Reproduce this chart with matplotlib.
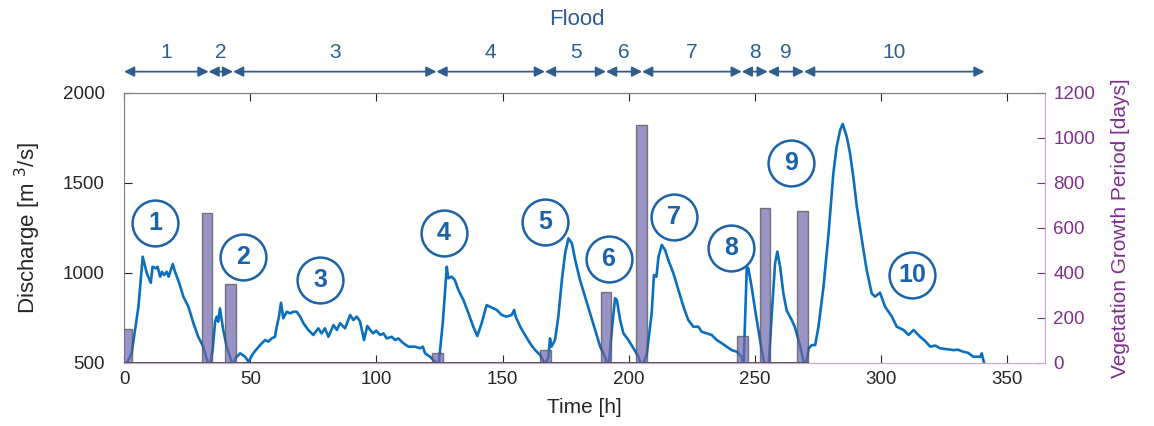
import numpy as np
import matplotlib.pyplot as plt

plt.rcParams['font.family'] = ['Liberation Sans', 'DejaVu Sans']

# discharge hydrograph (time in h, discharge in m3/s)
time_h = [0.5, 3.0, 5.7, 7.4, 9.0, 10.6, 11.3, 12.7, 13.3, 14.3, 15.0, 15.9, 16.9, 17.7,
          19.3, 20.2, 21.9, 23.5, 25.5, 27.5, 29.4, 31.4, 32.5, 33.8, 35.1, 36.1, 36.7,
          37.3, 38.0, 38.7, 39.3, 40.7, 42.0, 43.1, 44.0, 46.0, 48.0, 49.3, 51.2, 53.9,
          55.9, 57.2, 58.5, 59.8, 60.5, 61.4, 62.2, 63.1, 64.5, 65.8, 67.1, 68.4, 69.8,
          71.1, 73.0, 75.0, 77.0, 78.3, 79.6, 81.0, 83.0, 84.3, 85.6, 87.6, 89.6, 90.9,
          92.2, 93.5, 95.1, 96.4, 97.5, 98.8, 99.9, 101.5, 102.8, 104.1, 106.1, 107.4,
          108.7, 110.7, 112.7, 115.3, 117.3, 118.4, 119.3, 121.3, 123.3, 124.6, 126.3,
          127.9, 128.5, 129.8, 131.1, 132.5, 134.5, 136.5, 138.4, 140.0, 141.7, 143.7,
          145.0, 146.3, 147.7, 149.7, 151.6, 153.6, 154.6, 155.2, 157.0, 158.9, 160.9,
          162.9, 164.9, 166.9, 168.2, 168.8, 169.4, 170.8, 172.1, 173.5, 174.8, 176.1,
          177.5, 178.8, 180.7, 182.7, 184.7, 186.7, 188.7, 190.6, 192.0, 193.3, 194.6,
          195.3, 196.6, 197.9, 199.9, 201.9, 203.9, 205.2, 207.2, 209.1, 210.0, 211.0,
          211.8, 213.1, 214.4, 215.7, 217.7, 219.7, 221.7, 223.6, 225.6, 227.6, 228.9,
          230.9, 232.9, 234.9, 236.9, 238.8, 240.8, 242.8, 244.8, 245.5, 246.8, 247.4,
          248.7, 250.1, 251.4, 252.7, 254.1, 255.4, 256.7, 258.0, 258.9, 260.0, 261.3,
          262.6, 264.6, 265.8, 267.3, 268.6, 269.9, 271.3, 272.6, 273.9, 275.2, 277.2,
          279.2, 281.1, 282.4, 283.8, 284.8, 286.4, 287.7, 289.0, 290.4, 292.4, 294.3,
          296.3, 297.6, 299.6, 301.6, 304.3, 306.2, 308.9, 310.9, 312.9, 315.5, 317.5,
          319.5, 321.5, 323.4, 326.0, 328.7, 330.5, 332.6, 334.5, 336.6, 339.3, 339.9,
          340.8]
discharge = [480, 552, 811, 1089, 997, 944, 1033, 1024, 1033, 978, 1005, 987, 1005, 978,
             1048, 1005, 941, 867, 811, 719, 644, 589, 533, 470, 570, 728, 756,
             728, 802, 737, 682, 589, 533, 480, 524, 552, 533, 505, 552, 598,
             626, 617, 635, 644, 700, 756, 833, 747, 783, 774, 783, 783, 756,
             719, 682, 654, 691, 663, 691, 644, 709, 682, 719, 691, 765, 737,
             756, 730, 626, 704, 682, 663, 678, 654, 663, 635, 644, 626,
             635, 608, 589, 589, 580, 589, 552, 533, 505, 480, 719,
             1033, 969, 978, 959, 904, 848, 774, 700, 648, 719, 820,
             811, 802, 793, 765, 756, 765, 793, 756, 700, 654, 608,
             570, 543, 490, 533, 635, 589, 626, 756, 959, 1108, 1191,
             1163, 1070, 959, 867, 774, 682, 589, 533, 470, 682, 858,
             848, 737, 663, 626, 580, 533, 470, 552, 774, 987, 978,
             1089, 1154, 1126, 1070, 997, 904, 811, 737, 700, 700, 672,
             663, 654, 626, 608, 589, 570, 561, 533, 470, 1033, 1024,
             922, 793, 682, 570, 470, 470, 774, 1052, 1117, 1033, 885,
             790, 737, 700, 626, 552, 470, 580, 598, 598, 700, 922,
             1219, 1552, 1700, 1793, 1826, 1756, 1663, 1533, 1367, 1182, 1015,
             885, 867, 889, 811, 756, 700, 682, 654, 682, 644, 620,
             589, 595, 580, 575, 570, 572, 561, 555, 533, 533, 552,
             500]

# vegetation growth period between floods
bar_t = [1.0, 32.9, 42.1, 124.2, 167.0, 191.0, 205.1, 245.1, 254.0, 268.9]
growth_days = [150, 665, 350, 45, 56, 316, 1055, 119, 688, 676]

# flood events (start/end time)
flood_edges = [0, 33.5, 43.2, 123.8, 166.8, 191.0, 205.3, 244.8, 255.1, 269.5, 341.0]
flood_labels = ['1', '2', '3', '4', '5', '6', '7', '8', '9', '10']

# circled flood numbers
circ_t = [12.3, 47.3, 77.7, 126.6, 166.9, 192.0, 218.0, 240.6, 264.4, 312.2]
circ_q = [1274, 1089, 959, 1219, 1283, 1076, 1311, 1136, 1608, 987]

blue = '#0b6fbd'
navy = '#1c62a8'
steel = '#2e5e8e'
purple = '#7e2f8e'

fig = plt.figure(figsize=(11.54, 4.26), dpi=100)
ax = fig.add_axes([0.1075, 0.1486, 0.7981, 0.6338])
ax2 = ax.twinx()

ax.plot(time_h, discharge, color=blue, lw=1.9, zorder=2)
ax.set_xlim(0, 365)
ax.set_ylim(500, 2000)
ax.set_xticks(np.arange(0, 351, 50))
ax.set_yticks([500, 1000, 1500, 2000])
ax.tick_params(axis='both', direction='in', length=6, labelsize=13.5, colors='#262626',
               top=True)
ax.tick_params(axis='y', pad=14)
ax.tick_params(axis='x', pad=6)
for s in ['left', 'top']:
    ax.spines[s].set_color('#7f7f7f')
ax.spines['bottom'].set_color('#c9a6d0')
ax.spines['right'].set_visible(False)

ax.set_xlabel('Time [h]', fontsize=15, color='#262626')
ax.set_ylabel('Discharge [m $^3$/s]', fontsize=16, color='#262626')
ax.xaxis.set_label_coords(0.5, -0.13)
ax.yaxis.set_label_coords(-0.088, 0.5)

# circled numbers
ax.plot(circ_t, circ_q, 'o', ms=33, mfc='none', mec=navy, mew=1.8, clip_on=False, zorder=3)
for t, q, lab in zip(circ_t, circ_q, flood_labels):
    ax.text(t, q, lab, color=navy, fontsize=18, fontweight='bold', ha='center', va='center',
            zorder=4)

# vegetation bars
ax2.bar(bar_t, growth_days, width=4.2, color='#6f67ad', alpha=0.7, edgecolor='#4d4d4d',
        linewidth=1.0, zorder=3)
ax2.plot([0, 271], [0, 0], color='#555555', lw=1.4, zorder=4)
ax2.set_ylim(0, 1200)
ax2.set_yticks(np.arange(0, 1201, 200))
ax2.tick_params(axis='y', direction='in', length=6, labelsize=13.5, colors=purple, pad=6)
ax2.spines['right'].set_color('#c9a6d0')
ax2.spines['left'].set_visible(False)
ax2.spines['top'].set_color('#7f7f7f')
ax2.spines['bottom'].set_color('#c9a6d0')
ax2.set_ylabel('Vegetation Growth Period [days]', fontsize=15, color=purple)
ax2.yaxis.set_label_coords(1.072, 0.5)

# flood arrows on top
for i in range(len(flood_labels)):
    a, b = flood_edges[i], flood_edges[i + 1]
    ax.annotate('', xy=(b, 1.078), xytext=(a, 1.078), xycoords=('data', 'axes fraction'),
                textcoords=('data', 'axes fraction'), annotation_clip=False,
                arrowprops=dict(arrowstyle='<|-|>', color=steel, lw=1.3, mutation_scale=15,
                                shrinkA=0, shrinkB=0))
    ax.text((a + b) / 2, 1.15, flood_labels[i], transform=ax.get_xaxis_transform(),
            ha='center', va='center', fontsize=15, color=steel)
ax.text(179.5, 1.27, 'Flood', transform=ax.get_xaxis_transform(), ha='center',
        va='center', fontsize=16, color=steel)

fig.savefig('out.png', dpi=100)
